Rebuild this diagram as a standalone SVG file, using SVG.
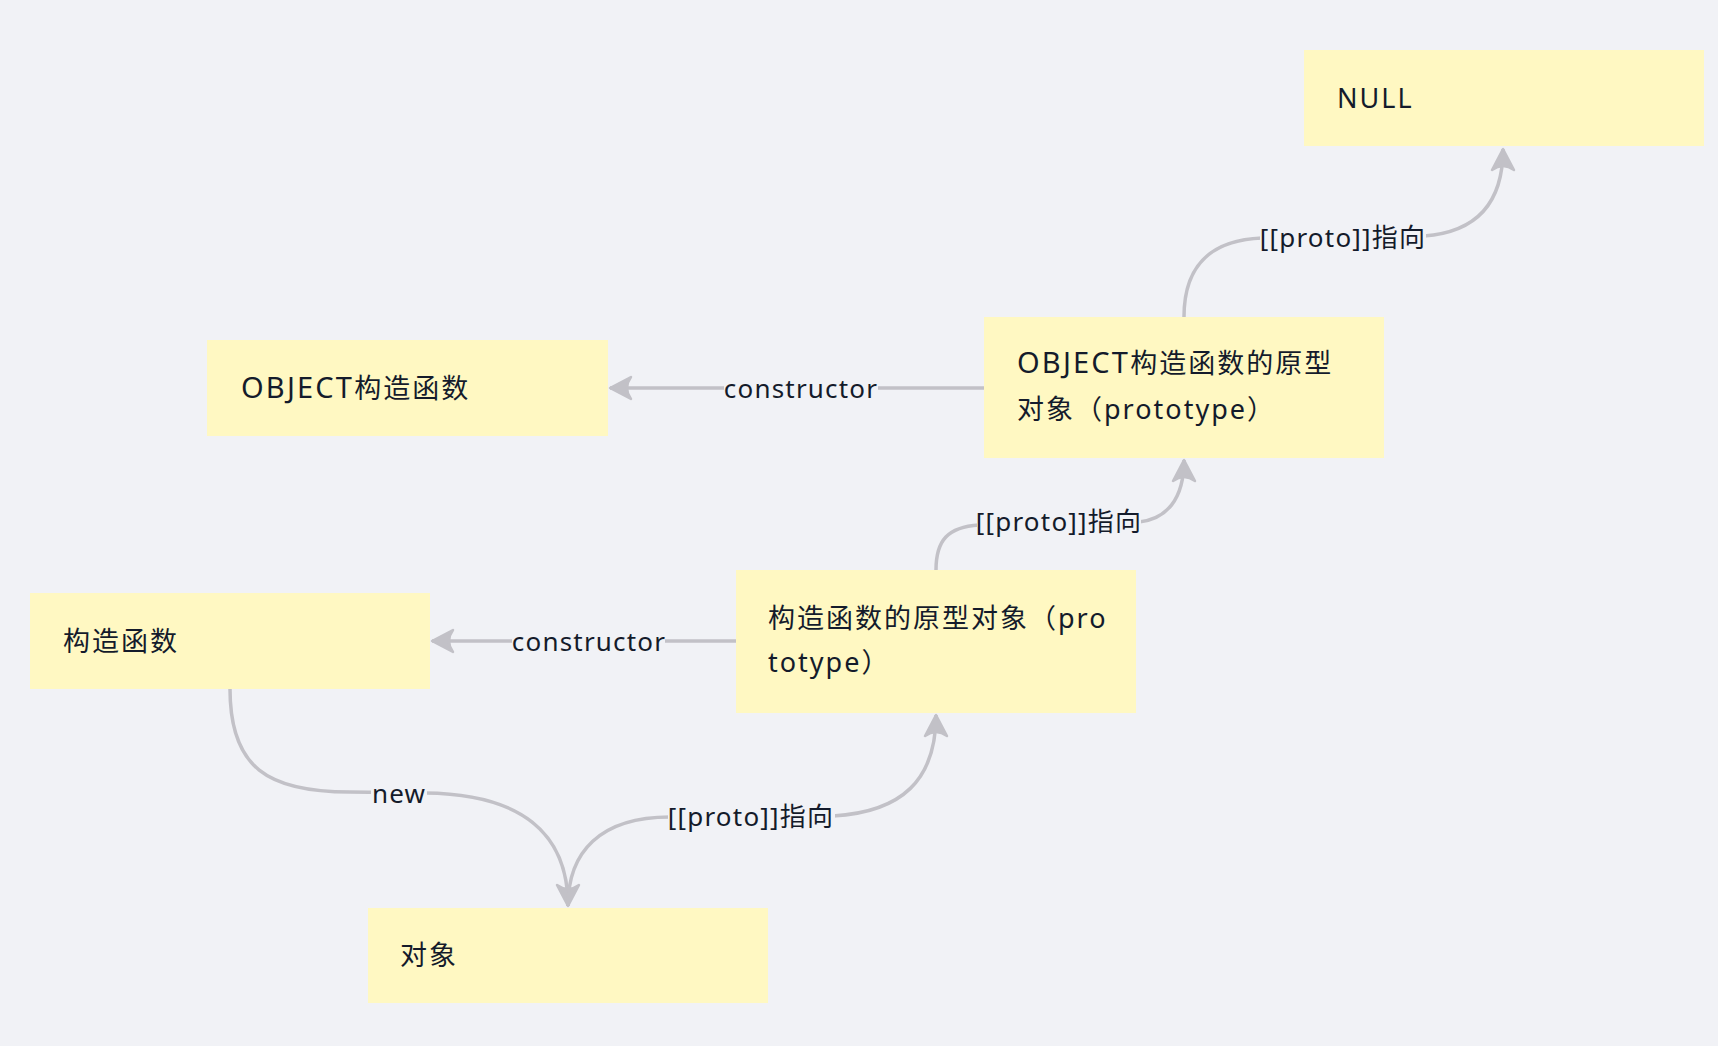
<svg xmlns="http://www.w3.org/2000/svg" width="1718" height="1046" viewBox="0 0 1718 1046">
<style>
.bg{fill:#f1f2f6}
.node rect{fill:#fff8c2}
.node text{font-family:"Noto Sans","Noto Sans CJK SC",sans-serif;font-size:27px;letter-spacing:2px;fill:#141b2b}
.up{font-size:29px;letter-spacing:2.2px}
.edge{fill:none;stroke:#c2c1c7;stroke-width:3.5;marker-end:url(#arr)}
.lbg{fill:#f1f2f6}
.lbl{font-family:"Noto Sans","Noto Sans CJK SC",sans-serif;font-size:26px;letter-spacing:1.2px;fill:#141b2b;text-anchor:middle;dominant-baseline:central}
</style>
<defs>
<marker id="arr" markerUnits="userSpaceOnUse" markerWidth="28" markerHeight="28" viewBox="-25 -14 28 28" refX="0" refY="0" orient="auto">
<path d="M0,0 L-21,-11 Q-13,0 -21,11 Z" fill="#c2c1c7" stroke="#c2c1c7" stroke-width="2.5" stroke-linejoin="round"/>
</marker>
</defs>
<rect class="bg" x="0" y="0" width="1718" height="1046"/>
<g id="connectors">
<path class="edge" d="M1184,317 C1184,262 1214,240 1262,238 L1424,236 C1478,232 1503,202 1503,149"/>
<path class="edge" d="M984,388 L610,388"/>
<path class="edge" d="M936,570 C936,540 948,527 979,525 L1139,522 C1166,519 1184,500 1184,460"/>
<path class="edge" d="M736,641 L432,641"/>
<path class="edge" d="M230,689 C230,768 268,792 350,792 L425,793 C520,794 568,832 568,906"/>
<path class="edge" d="M568,906 C568,852 600,817 670,817 L833,816 C902,812 936,780 936,715"/>
<g id="edge-labels">
<rect class="lbg" x="1260" y="220" width="166" height="34"/>
<text class="lbl" x="1343" y="237">[[proto]]指向</text>
<rect class="lbg" x="724" y="371" width="154" height="34"/>
<text class="lbl" x="801" y="388">constructor</text>
<rect class="lbg" x="977" y="505" width="164" height="34"/>
<text class="lbl" x="1059" y="521">[[proto]]指向</text>
<rect class="lbg" x="512" y="624" width="153" height="34"/>
<text class="lbl" x="589" y="641">constructor</text>
<rect class="lbg" x="371" y="777" width="56" height="34"/>
<text class="lbl" x="399" y="793">new</text>
<rect class="lbg" x="668" y="799" width="167" height="34"/>
<text class="lbl" x="751" y="816">[[proto]]指向</text>
</g>
</g>
<g id="node-null" class="node">
<rect x="1304" y="50" width="400" height="96"/>
<text x="1337" y="108">NULL</text>
</g>
<g id="node-object-ctor" class="node">
<rect x="207" y="340" width="401" height="96"/>
<text x="241" y="398"><tspan class="up">OBJECT</tspan>构造函数</text>
</g>
<g id="node-object-proto" class="node">
<rect x="984" y="317" width="400" height="141"/>
<text x="1017" y="373"><tspan class="up">OBJECT</tspan>构造函数的原型</text>
<text x="1017" y="419">对象（prototype）</text>
</g>
<g id="node-ctor" class="node">
<rect x="30" y="593" width="400" height="96"/>
<text x="63" y="651">构造函数</text>
</g>
<g id="node-proto" class="node">
<rect x="736" y="570" width="400" height="143"/>
<text x="768" y="628">构造函数的原型对象（pro</text>
<text x="768" y="672">totype）</text>
</g>
<g id="node-obj" class="node">
<rect x="368" y="908" width="400" height="95"/>
<text x="400" y="965">对象</text>
</g>
</svg>
